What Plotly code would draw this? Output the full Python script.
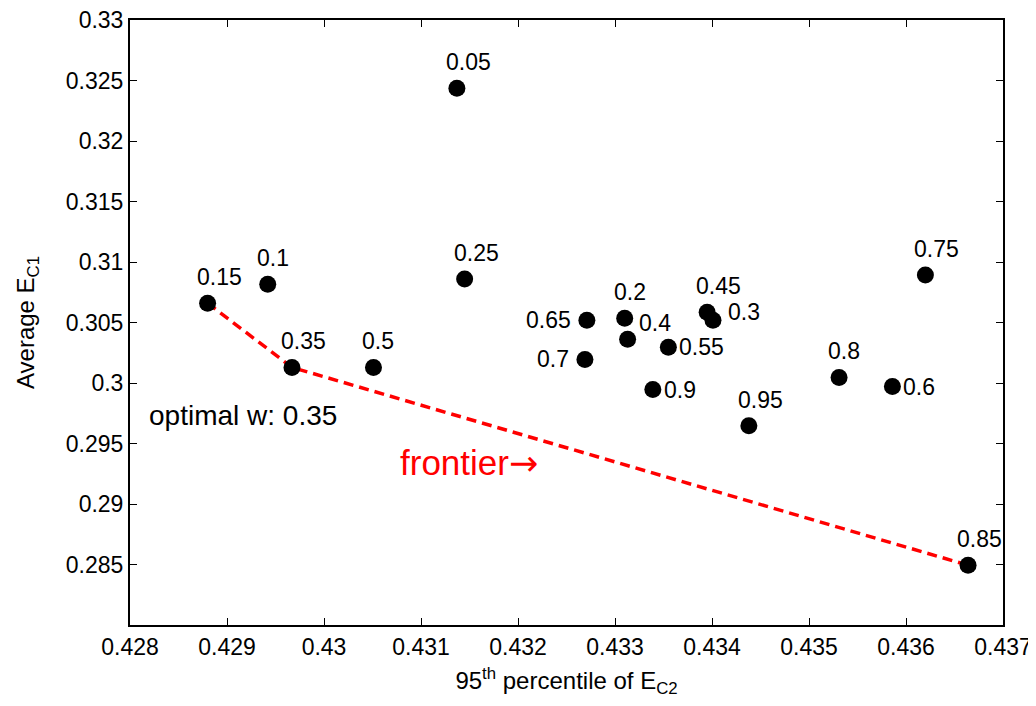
import plotly.graph_objects as go

# weights and coordinates
weights = ["0.05", "0.1", "0.15", "0.2", "0.25", "0.3", "0.35", "0.4", "0.45", "0.5",
           "0.55", "0.6", "0.65", "0.7", "0.75", "0.8", "0.85", "0.9", "0.95"]
p95_ec2 = [0.43137, 0.42942, 0.42880, 0.43310, 0.43145, 0.43401, 0.42967, 0.43313, 0.43395, 0.43051,
           0.43355, 0.43586, 0.43271, 0.43269, 0.43620, 0.43531, 0.43664, 0.43339, 0.43438]
avg_ec1 = [0.32436, 0.30817, 0.30660, 0.30535, 0.30859, 0.30519, 0.30129, 0.30361, 0.30585, 0.30129,
           0.30295, 0.29971, 0.30519, 0.30195, 0.30892, 0.30046, 0.28494, 0.29946, 0.29647]
# where each weight label sits relative to its point
label_side = ["above", "above", "above", "above", "above", "right_up", "above", "up_right", "above", "above",
              "right", "right", "left", "left", "above", "above", "above", "right", "above"]

frontier_w = ["0.15", "0.35", "0.85"]

x_ticks = [0.428, 0.429, 0.43, 0.431, 0.432, 0.433, 0.434, 0.435, 0.436, 0.437]
x_ticktext = ["0.428", "0.429", "0.43", "0.431", "0.432", "0.433", "0.434", "0.435", "0.436", "0.437"]
y_ticks = [0.285, 0.29, 0.295, 0.3, 0.305, 0.31, 0.315, 0.32, 0.325, 0.33]
y_ticktext = ["0.285", "0.29", "0.295", "0.3", "0.305", "0.31", "0.315", "0.32", "0.325", "0.33"]

FONT = "Liberation Sans, Arial, sans-serif"

# label placement styles: (xanchor, yanchor, xshift, yshift)
SIDE_STYLE = {
    "above": ("left", "bottom", -13, 11),
    "right": ("left", "middle", 9, 0),
    "right_up": ("left", "middle", 13, 8),
    "up_right": ("left", "middle", 9, 16),
    "left": ("right", "middle", -14, 0),
}

idx = {w: i for i, w in enumerate(weights)}
fx = [p95_ec2[idx[w]] for w in frontier_w]
fy = [avg_ec1[idx[w]] for w in frontier_w]

fig = go.Figure()
fig.add_trace(go.Scatter(x=fx, y=fy, mode="lines",
                         line=dict(color="#ff0000", width=3.5, dash="10px,6px"),
                         hoverinfo="skip", showlegend=False))
fig.add_trace(go.Scatter(x=p95_ec2, y=avg_ec1, mode="markers",
                         marker=dict(color="black", size=17),
                         text=weights, hoverinfo="x+y+text",
                         showlegend=False))

for w, xv, yv, side in zip(weights, p95_ec2, avg_ec1, label_side):
    xa, ya, xs, ys = SIDE_STYLE[side]
    fig.add_annotation(x=xv, y=yv, xref="x", yref="y", text=w, showarrow=False,
                       xanchor=xa, yanchor=ya, xshift=xs, yshift=ys,
                       font=dict(family=FONT, size=23, color="black"))

fig.add_annotation(x=0.42818, y=0.2973, xref="x", yref="y", text="optimal w: 0.35",
                   showarrow=False, xanchor="left", yanchor="middle",
                   font=dict(family=FONT, size=28, color="black"))
fig.add_annotation(x=0.43076, y=0.2934, xref="x", yref="y",
                   text="frontier<span style='font-family:DejaVu Sans'>\u2192</span>",
                   showarrow=False, xanchor="left", yanchor="middle",
                   font=dict(family=FONT, size=35, color="#ff0000"))

axis_common = dict(showline=True, linecolor="black", linewidth=2, mirror="ticks",
                   ticks="inside", ticklen=7, tickcolor="black", tickwidth=1,
                   showgrid=False, zeroline=False, ticklabeloverflow="allow",
                   tickfont=dict(family=FONT, size=23, color="black"))

fig.update_xaxes(range=[0.428, 0.437], tickvals=x_ticks, ticktext=x_ticktext,
                 title=dict(text="95<sup>th</sup> percentile of E<sub>C2</sub>",
                            font=dict(family=FONT, size=24, color="black"), standoff=16),
                 **axis_common)
fig.update_yaxes(range=[0.28, 0.33], tickvals=y_ticks, ticktext=y_ticktext,
                 title=dict(text="Average E<sub>C1</sub>",
                            font=dict(family=FONT, size=24, color="black"), standoff=24),
                 **axis_common)

fig.update_layout(width=1028, height=690, plot_bgcolor="white", paper_bgcolor="white",
                  margin=dict(l=122, r=33, t=12, b=73, autoexpand=False))

fig.write_html("out.html")
